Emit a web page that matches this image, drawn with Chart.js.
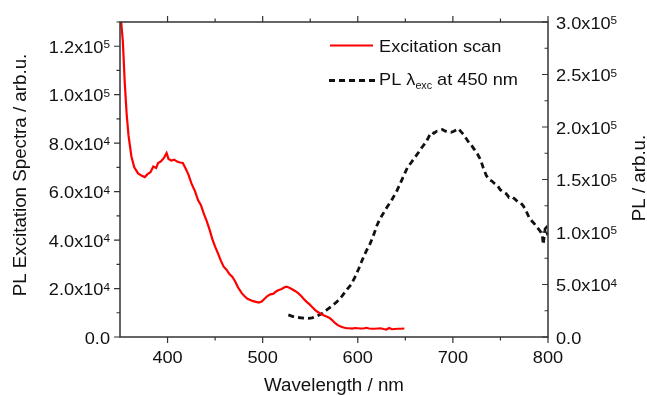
<!DOCTYPE html>
<html>
<head>
<meta charset="utf-8">
<script src="https://cdn.jsdelivr.net/npm/chart.js@4/dist/chart.umd.min.js"></script>
<style>
  html, body { margin: 0; padding: 0; background: #fff; }
  #wrap { width: 647px; height: 395px; }
</style>
</head>
<body>
<div id="wrap"><canvas id="chart" width="647" height="395"></canvas></div>
<script>
// ----- data -----
const excWavelength = [351, 353, 355, 357, 359, 362, 365, 369, 373, 376, 379, 382, 385, 388, 390, 393, 396, 399, 401, 404,
  407, 410, 413, 416, 419, 422, 425, 429, 432, 435, 438, 441, 444, 447, 450, 453, 456, 459, 462, 465,
  468, 471, 474, 478, 481, 484, 487, 490, 493, 496, 499, 502, 505, 508, 511, 514, 517, 520, 523, 525,
  528, 531, 534, 537, 540, 543, 546, 549, 552, 555, 558, 561, 564, 567, 570, 573, 576, 579, 582, 585,
  588, 591, 594, 597, 600, 603, 606, 609, 612, 615, 618, 621, 624, 627, 630, 633, 636, 639, 642, 645, 649];
const excIntensity = [131000, 122000, 105000, 92000, 83000, 74500, 70000, 67500, 66500, 66000, 67200, 68000, 70400, 69800, 71800, 72500, 73800, 75900, 73500, 72800,
  73200, 72400, 72000, 71800, 69500, 67000, 63500, 60000, 56500, 54500, 51000, 48000, 44500, 40500, 37300, 34500, 31500, 29000, 27800, 26000,
  24900, 23000, 20500, 18100, 16800, 15800, 15300, 14800, 14500, 14200, 14600, 15800, 16900, 17600, 17800, 18800, 19400, 19800, 20500, 20800,
  20300, 19700, 19000, 18200, 17100, 15800, 14600, 13600, 12400, 11200, 10300, 9600, 9000, 8500, 8000, 7000, 5800, 4900, 4300, 3900,
  3700, 3600, 3500, 3700, 3600, 3500, 3500, 3800, 3500, 3400, 3400, 3500, 3600, 3300, 3100, 3700, 3200, 3300, 3400, 3400, 3500];

const plWavelength = [527, 532, 537, 543, 548, 552, 557, 562, 567, 572, 578, 583, 588, 593, 597, 601, 605, 609, 613, 617,
  620, 623, 627, 631, 636, 641, 645, 649, 652, 656, 660, 664, 667, 672, 676, 678, 680, 683, 686, 689,
  692, 695, 698, 701, 704, 706, 708, 711, 714, 717, 720, 723, 726, 729, 732, 735, 738, 741, 744, 747,
  750, 753, 756, 759, 762, 765, 768, 771, 774, 777, 780, 783, 786, 789, 792, 794, 795, 796, 797, 798, 799, 800];
const plIntensity = [21000, 19500, 18600, 18000, 17800, 18300, 19800, 22000, 25500, 29000, 33500, 38500, 44500, 50000, 57000, 65000, 74000, 82000, 89000, 98000,
  106000, 112000, 118000, 124000, 131000, 139000, 147000, 155000, 161000, 166000, 171000, 176000, 180000, 186000, 193000, 195000, 194000, 196000, 196500, 197500,
  196000, 195500, 195000, 196000, 197500, 198500, 196000, 193000, 189000, 185000, 182000, 178000, 174000, 169000, 161000, 154000, 150000, 148500, 146000, 144000,
  140000, 138000, 136500, 133000, 133500, 131500, 129000, 128000, 125000, 120000, 114000, 110500, 107500, 104000, 100500, 97000, 88000, 96000, 103000, 104000, 99000, 97000];

const xTicks = [400, 500, 600, 700, 800];
const leftTicks = [0, 20000, 40000, 60000, 80000, 100000, 120000];
const rightTicks = [0, 50000, 100000, 150000, 200000, 250000, 300000];

const FONT = '"Liberation Sans", Arial, sans-serif';
const STRETCH = 1.07;
const AXIS = '#333';

function pairs(xs, ys) {
  return xs.map(function(x, i) { return { x: x, y: ys[i] }; });
}

// text with a slight horizontal stretch, like the source figure
function txt(ctx, s, x, y, size, align) {
  ctx.save();
  ctx.translate(x, y);
  ctx.scale(STRETCH, 1);
  ctx.font = size + 'px ' + FONT;
  ctx.textAlign = align || 'left';
  ctx.textBaseline = 'alphabetic';
  ctx.fillText(s, 0, 0);
  ctx.restore();
}
function tw(ctx, s, size) {
  ctx.font = size + 'px ' + FONT;
  return ctx.measureText(s).width * STRETCH;
}

// "1.2x10^5" split into main part and exponent
function sciParts(v) {
  if (v === 0) return ['0.0', ''];
  const e = Math.floor(Math.log10(v) + 1e-9);
  return [(v / Math.pow(10, e)).toFixed(1) + 'x10', String(e)];
}

const axesPlugin = {
  id: 'axesPlugin',
  afterDraw: function(chart) {
    const ctx = chart.ctx;
    const a = chart.chartArea;
    const sx = chart.scales.x, sy = chart.scales.y, sy2 = chart.scales.y2;
    ctx.save();
    ctx.fillStyle = '#111';
    ctx.strokeStyle = AXIS;

    // frame
    ctx.lineWidth = 1.5;
    ctx.strokeRect(a.left, a.top, a.right - a.left, a.bottom - a.top);

    // ticks
    ctx.lineWidth = 1.2;
    ctx.beginPath();
    for (let w = 400; w <= 800; w += 50) {
      const px = sx.getPixelForValue(w);
      const len = (w % 100 === 0) ? 6 : 3.5;
      ctx.moveTo(px, a.bottom); ctx.lineTo(px, a.bottom + len);
      ctx.moveTo(px, a.top); ctx.lineTo(px, a.top - len);
    }
    for (let v = 0; v <= 130000; v += 10000) {
      const py = sy.getPixelForValue(v);
      const len = (v % 20000 === 0) ? 6 : 3.5;
      ctx.moveTo(a.left, py); ctx.lineTo(a.left - len, py);
    }
    for (let v = 0; v <= 300000; v += 25000) {
      const py = sy2.getPixelForValue(v);
      const len = (v % 50000 === 0) ? 6 : 3.5;
      ctx.moveTo(a.right, py); ctx.lineTo(a.right - len, py);
    }
    ctx.stroke();

    // x tick labels
    xTicks.forEach(function(w) {
      txt(ctx, String(w), sx.getPixelForValue(w), a.bottom + 26, 17, 'center');
    });

    // left tick labels
    leftTicks.forEach(function(v) {
      const py = sy.getPixelForValue(v);
      const p = sciParts(v);
      const right = 110;
      const wSup = p[1] ? tw(ctx, p[1], 11) : 0;
      if (p[1]) txt(ctx, p[1], right - wSup, py + 2, 11, 'left');
      txt(ctx, p[0], right - wSup, py + 6.5, 17, 'right');
    });

    // right tick labels
    rightTicks.forEach(function(v) {
      const py = sy2.getPixelForValue(v);
      const p = sciParts(v);
      const left = a.right + 8;
      const wMain = tw(ctx, p[0], 17);
      txt(ctx, p[0], left, py + 6.5, 17, 'left');
      if (p[1]) txt(ctx, p[1], left + wMain, py + 2, 11, 'left');
    });

    // axis titles
    txt(ctx, 'Wavelength / nm', (a.left + a.right) / 2, 391, 17.5, 'center');
    ctx.save();
    ctx.translate(26, 175);
    ctx.rotate(-Math.PI / 2);
    txt(ctx, 'PL Excitation Spectra / arb.u.', 0, 0, 17.5, 'center');
    ctx.restore();
    ctx.save();
    ctx.translate(645, 178);
    ctx.rotate(-Math.PI / 2);
    txt(ctx, 'PL / arb.u.', 0, 0, 17.5, 'center');
    ctx.restore();

    // legend
    ctx.lineWidth = 2.2;
    ctx.strokeStyle = '#ff0000';
    ctx.beginPath(); ctx.moveTo(330, 45.5); ctx.lineTo(373, 45.5); ctx.stroke();
    txt(ctx, 'Excitation scan', 379, 52, 17, 'left');

    ctx.lineWidth = 2.8;
    ctx.strokeStyle = '#111';
    ctx.setLineDash([6, 4]);
    ctx.beginPath(); ctx.moveTo(329, 80.5); ctx.lineTo(375, 80.5); ctx.stroke();
    ctx.setLineDash([]);
    let x = 379;
    txt(ctx, 'PL \u03bb', x, 84.5, 17, 'left');
    x += tw(ctx, 'PL \u03bb', 17);
    txt(ctx, 'exc', x, 89, 10, 'left');
    x += tw(ctx, 'exc', 10);
    txt(ctx, ' at 450 nm', x, 84.5, 17, 'left');

    ctx.restore();
  }
};

function plainAxis(position, size, extra) {
  const o = {
    position: position,
    grid: { display: false },
    border: { display: false },
    ticks: { display: false },
    afterFit: function(scale) {
      if (scale.isHorizontal()) scale.height = size; else scale.width = size;
    }
  };
  return Object.assign(o, extra);
}

new Chart(document.getElementById('chart').getContext('2d'), {
  type: 'line',
  data: {
    datasets: [
      {
        label: 'Excitation scan',
        data: pairs(excWavelength, excIntensity),
        borderColor: '#ff0000',
        borderWidth: 2.2,
        pointRadius: 0,
        tension: 0,
        xAxisID: 'x',
        yAxisID: 'y'
      },
      {
        label: 'PL λexc at 450 nm',
        data: pairs(plWavelength, plIntensity),
        borderColor: '#111',
        borderWidth: 2.8,
        borderDash: [6, 4],
        pointRadius: 0,
        tension: 0,
        xAxisID: 'x',
        yAxisID: 'y2'
      }
    ]
  },
  options: {
    responsive: false,
    animation: false,
    layout: { padding: 0, autoPadding: false },
    plugins: { legend: { display: false }, tooltip: { enabled: false } },
    scales: {
      x: plainAxis('bottom', 58, { type: 'linear', min: 350, max: 800 }),
      x2: plainAxis('top', 22, { type: 'linear', min: 350, max: 800 }),
      y: plainAxis('left', 120, { type: 'linear', min: 0, max: 130000 }),
      y2: plainAxis('right', 99, { type: 'linear', min: 0, max: 300000 })
    }
  },
  plugins: [axesPlugin]
});
</script>
</body>
</html>
